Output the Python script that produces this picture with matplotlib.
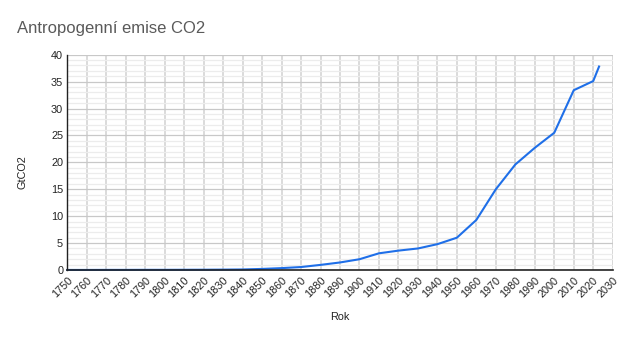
import matplotlib
matplotlib.use("Agg")
import matplotlib.pyplot as plt
from matplotlib.ticker import MultipleLocator

plt.rcParams['font.family'] = ['Liberation Sans', 'DejaVu Sans']

years = [1750, 1760, 1770, 1780, 1790, 1800, 1810, 1820, 1830, 1840,
         1850, 1860, 1870, 1880, 1890, 1900, 1910, 1920, 1930, 1940,
         1950, 1960, 1970, 1980, 1990, 2000, 2010, 2020, 2023]
emissions = [0.01, 0.01, 0.02, 0.02, 0.03, 0.03, 0.04, 0.05, 0.07, 0.1,
             0.2, 0.35, 0.55, 0.95, 1.4, 2.0, 3.1, 3.6, 4.0, 4.8,
             6.0, 9.3, 15.0, 19.6, 22.7, 25.5, 33.4, 35.1, 37.8]
x_ticks = list(range(1750, 2031, 10))
y_ticks = [0, 5, 10, 15, 20, 25, 30, 35, 40]

fig = plt.figure(figsize=(6.3, 3.4), dpi=100)
ax = fig.add_axes([67.3 / 630, 1 - 270 / 340, (612.7 - 67.3) / 630, (270 - 54.7) / 340])

ax.set_xlim(1750, 2030)
ax.set_ylim(0, 40)
ax.set_xticks(x_ticks)
ax.set_xticklabels([str(t) for t in x_ticks], rotation=45, ha='right',
                   rotation_mode='anchor', fontsize=7.8)
ax.set_yticks(y_ticks)
ax.set_yticklabels([str(t) for t in y_ticks], fontsize=7.8)
ax.yaxis.set_minor_locator(MultipleLocator(1))

ax.grid(which='major', axis='y', color='#c8c8c8', linewidth=0.9)
ax.grid(which='minor', axis='y', color='#ececec', linewidth=0.9)
ax.grid(which='major', axis='x', color='#d4d4d4', linewidth=1.2)
ax.set_axisbelow(True)

ax.tick_params(axis='both', which='both', length=0, pad=3, colors='#222222')
ax.tick_params(axis='x', pad=4)

for side in ('top', 'right'):
    ax.spines[side].set_visible(False)
ax.spines['left'].set_color('#222222')
ax.spines['bottom'].set_color('#222222')
ax.spines['left'].set_linewidth(1.0)
ax.spines['bottom'].set_linewidth(1.2)
ax.axvline(2030, color='#c8c8c8', linewidth=1.0, zorder=0.5)

ax.plot(years, emissions, color='#1f6fe8', linewidth=1.5, solid_joinstyle='round', clip_on=False)

fig.text(17 / 630, 1 - 33 / 340, 'Antropogenní emise CO2', fontsize=12,
         color='#5a5a5a', ha='left', va='baseline')
fig.text(340 / 630, 1 - 317 / 340, 'Rok', fontsize=7.8, color='#222222',
         ha='center', va='center')
fig.text(23 / 630, 1 - 172 / 340, 'GtCO2', fontsize=7.8, color='#222222',
         ha='center', va='center', rotation=90)

fig.savefig('out.png', dpi=100)
